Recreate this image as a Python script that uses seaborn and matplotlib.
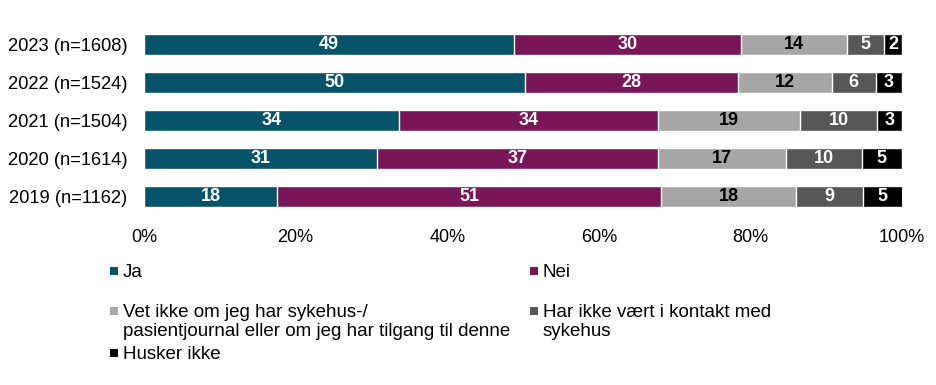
import matplotlib
matplotlib.use("Agg")
import matplotlib.pyplot as plt
from matplotlib.patches import Rectangle
import seaborn as sns
import pandas as pd

# Share of respondents (%) per year
years = ["2023 (n=1608)", "2022 (n=1524)", "2021 (n=1504)", "2020 (n=1614)", "2019 (n=1162)"]
ja = [48.8, 50.3, 33.7, 30.8, 17.6]
nei = [30.0, 28.1, 34.1, 37.0, 50.6]
vet_ikke = [13.9, 12.3, 18.8, 16.9, 17.8]
har_ikke = [4.9, 5.9, 10.1, 10.0, 8.8]
husker_ikke = [2.4, 3.4, 3.3, 5.3, 5.3]

labels = [
    "Ja",
    "Nei",
    "Vet ikke om jeg har sykehus-/\npasientjournal eller om jeg har tilgang til denne",
    "Har ikke vært i kontakt med\nsykehus",
    "Husker ikke",
]
colors = ["#07536A", "#7A1558", "#A6A6A6", "#575757", "#000000"]
text_colors = ["white", "white", "black", "white", "white"]
xticks = [0, 20, 40, 60, 80, 100]

df = pd.DataFrame({"year": years, "Ja": ja, "Nei": nei, "Vet": vet_ikke,
                   "Har": har_ikke, "Husker": husker_ikke})
cols = ["Ja", "Nei", "Vet", "Har", "Husker"]
cum = df[cols].cumsum(axis=1)

sns.set_style("white")
plt.rcParams["font.family"] = ["Liberation Sans", "DejaVu Sans"]
plt.rcParams["text.color"] = "black"
plt.rcParams["xtick.color"] = "black"
plt.rcParams["ytick.color"] = "black"
fs = 13

W, H = 937, 385
fig = plt.figure(figsize=(W / 100, H / 100), dpi=100)
ax = fig.add_axes([144 / W, 1 - 215.5 / H, 758 / W, 190 / H])

# stacked bars: draw cumulative totals from the widest down
for i in range(len(cols) - 1, -1, -1):
    sns.barplot(x=cum[cols[i]], y=df["year"], color=colors[i], width=0.55,
                orient="h", saturation=1, ax=ax)

for i, c in enumerate(cols):
    for j in range(len(df)):
        v = df[c][j]
        ax.text(cum[c][j] - v / 2, j, f"{v:.0f}", ha="center", va="center",
                color=text_colors[i], fontsize=fs, fontweight="bold")

ax.set_xlim(0, 100)
ax.set_ylim(4.5, -0.5)
ax.set_xticks(xticks)
ax.set_xticklabels([f"{t}%" for t in xticks])
ax.set_xlabel("")
ax.set_ylabel("")
ax.tick_params(axis="x", length=0, pad=10, labelsize=fs, labelcolor="black")
ax.tick_params(axis="y", length=0, pad=12, labelsize=13.2, labelcolor="black")
for s in ax.spines.values():
    s.set_visible(False)

# legend, laid out like the original (two columns below the plot)
legend_pos = [(110, 271), (530, 271), (110, 311), (530, 311), (110, 353)]
for (px, py), lab, col in zip(legend_pos, labels, colors):
    fig.add_artist(Rectangle((px / W, 1 - (py + 4) / H), 8 / W, 8 / H,
                             transform=fig.transFigure, facecolor=col,
                             edgecolor="none"))
    fig.text((px + 13) / W, 1 - (py - 7) / H, lab, ha="left", va="top",
             fontsize=13.5, linespacing=1.15, color="black")

fig.savefig("out.png", dpi=100)
